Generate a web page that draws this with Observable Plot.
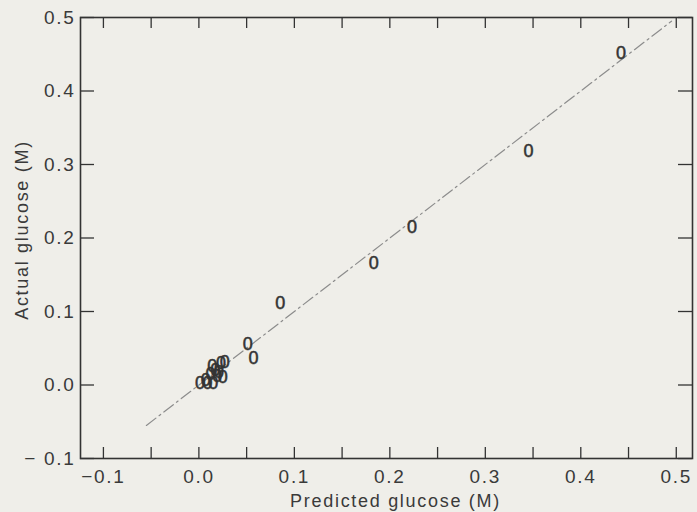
<!DOCTYPE html>
<html>
<head>
<meta charset="utf-8">
<script src="https://cdn.jsdelivr.net/npm/d3@7"></script>
<script src="https://cdn.jsdelivr.net/npm/@observablehq/plot@0.6"></script>
<style>
  html, body { margin: 0; padding: 0; background: #efeee9; }
  #chart svg { display: block; }
</style>
</head>
<body>
<div id="chart"></div>
<script>
// Data
const predicted = [0.443, 0.346, 0.224, 0.184, 0.086, 0.052, 0.058,
  0.002, 0.010, 0.016, 0.013, 0.018, 0.015, 0.022, 0.024, 0.028, 0.026, 0.020, 0.008];
const actual = [0.451, 0.318, 0.215, 0.165, 0.111, 0.056, 0.036,
  0.002, 0.002, 0.002, 0.015, 0.020, 0.025, 0.018, 0.029, 0.031, 0.011, 0.012, 0.006];
const markerText = "0";
const identityLine = [-0.055, 0.495];

const xLabelTicks = [-0.1, 0.0, 0.1, 0.2, 0.3, 0.4, 0.5];
const xMinorTicks = [-0.1, -0.05, 0.0, 0.05, 0.1, 0.15, 0.2, 0.25, 0.3, 0.35, 0.4, 0.45, 0.5];
const yTicks = [-0.1, 0.0, 0.1, 0.2, 0.3, 0.4, 0.5];
const xTitle = "Predicted glucose (M)";
const yTitle = "Actual glucose (M)";

const points = predicted.map((p, i) => ({p, a: actual[i]}));
const lineData = identityLine.map(v => ({v}));

const W = 697, H = 512;
const mt = 17, mb = 54, ml = 80, mr = 5;
const plotH = H - mt - mb, plotW = W - ml - mr;
const ink = "#333";
const textInk = "#3a3a3a";
const fmtX = d => d < 0 ? "\u2212" + d3.format(".1f")(-d) : d3.format(".1f")(d);
const fmtY = d => d < 0 ? "\u2212 " + d3.format(".1f")(-d) : d3.format(".1f")(d);

const chart = Plot.plot({
  width: W, height: H,
  marginTop: mt, marginBottom: mb, marginLeft: ml, marginRight: mr,
  style: {background: "#efeee9", color: ink, fontFamily: "'Liberation Sans', Arial, sans-serif", fontSize: "19px", letterSpacing: "1.7px"},
  x: {domain: [-0.124, 0.517]},
  y: {domain: [-0.1, 0.5]},
  marks: [
    Plot.axisX(xLabelTicks, {tickSize: 0, tickPadding: 11, tickFormat: fmtX, label: null, fill: textInk}),
    Plot.axisY(yTicks, {tickSize: 0, tickPadding: 5, tickFormat: fmtY, label: null, fill: textInk}),
    // inward ticks: bottom & top
    Plot.tickX(xMinorTicks, {x: d => d, insetTop: plotH - 11, stroke: ink, strokeWidth: 1.3}),
    Plot.tickX(xMinorTicks, {x: d => d, insetBottom: plotH - 11, stroke: ink, strokeWidth: 1.3}),
    // inward ticks: left & right
    Plot.tickY(yTicks, {y: d => d, insetRight: plotW - 14, stroke: ink, strokeWidth: 1.3}),
    Plot.tickY(yTicks, {y: d => d, insetLeft: plotW - 14, stroke: ink, strokeWidth: 1.3}),
    Plot.frame({stroke: ink, strokeWidth: 1.6}),
    Plot.line(lineData, {x: "v", y: "v", stroke: "#8c8c8c", strokeWidth: 1.2, strokeDasharray: "12,4,2,4"}),
    Plot.text(points, {x: "p", y: "a", text: () => markerText, fontSize: 18, fill: "#333", stroke: "#333", strokeWidth: 0.5, letterSpacing: "0px"}),
    Plot.text([xTitle], {text: d => d, frameAnchor: "bottom", textAnchor: "middle", lineAnchor: "middle", dy: 43, dx: 9, fontSize: 18, letterSpacing: "1.3px", fill: textInk}),
    Plot.text([yTitle], {text: d => d, frameAnchor: "left", textAnchor: "middle", lineAnchor: "middle", rotate: -90, dx: -58, dy: -8, fontSize: 18, letterSpacing: "1.1px", fill: textInk})
  ]
});
document.getElementById("chart").appendChild(chart);
</script>
</body>
</html>
